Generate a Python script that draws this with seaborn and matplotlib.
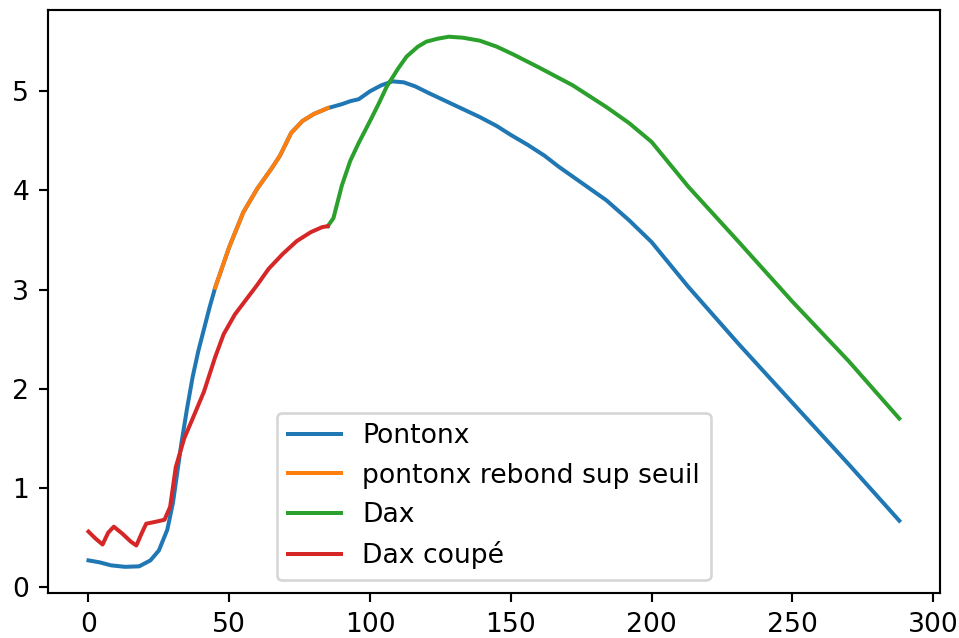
import matplotlib
matplotlib.use("Agg")
import matplotlib.pyplot as plt
import seaborn as sns
import numpy as np

# Pontonx (full series)
pontonx_x = [0, 4, 8, 13, 18, 22, 25, 28, 30, 33, 35, 37, 39, 41, 43, 45, 50, 55, 60, 65,
             68, 72, 76, 80, 85, 90, 93, 96, 100, 104, 108, 112, 116, 121, 127, 133, 139,
             145, 150, 156, 162, 167, 175, 184, 192, 200, 213, 231, 250, 270, 288]
pontonx_y = [0.27, 0.25, 0.22, 0.205, 0.21, 0.27, 0.37, 0.58, 0.85, 1.45, 1.80, 2.12, 2.38,
             2.60, 2.82, 3.02, 3.43, 3.78, 4.02, 4.22, 4.35, 4.58, 4.70, 4.77, 4.83, 4.87,
             4.90, 4.92, 5.00, 5.06, 5.10, 5.09, 5.05, 4.98, 4.90, 4.82, 4.74, 4.65, 4.56,
             4.46, 4.35, 4.24, 4.08, 3.90, 3.70, 3.48, 3.03, 2.45, 1.86, 1.24, 0.67]

# rebound part above threshold
rebond_start, rebond_end = 45, 85

# Dax coupé
dax_cut_x = [0, 2.5, 5, 7, 9, 12, 15, 17, 19, 20.5, 24, 27, 29, 31, 34, 37, 41, 45, 48,
             52, 56, 60, 64, 69, 74, 79, 83, 85]
dax_cut_y = [0.56, 0.49, 0.43, 0.55, 0.61, 0.54, 0.46, 0.42, 0.55, 0.64, 0.66, 0.68, 0.81,
             1.21, 1.50, 1.70, 1.97, 2.32, 2.55, 2.75, 2.90, 3.05, 3.21, 3.36, 3.49, 3.58,
             3.63, 3.64]

# Dax
dax_x = [85, 87, 90, 93, 96, 100, 103, 106, 110, 113, 117, 120, 124, 128, 133, 139, 145,
         151, 160, 172, 184, 192, 200, 213, 231, 250, 270, 288]
dax_y = [3.64, 3.72, 4.05, 4.30, 4.48, 4.70, 4.87, 5.05, 5.23, 5.35, 5.45, 5.50, 5.53, 5.55,
         5.54, 5.51, 5.45, 5.37, 5.24, 5.06, 4.84, 4.68, 4.49, 4.04, 3.48, 2.88, 2.28, 1.70]

px = np.array(pontonx_x)
py = np.array(pontonx_y)
mask = (px >= rebond_start) & (px <= rebond_end)

colors = sns.color_palette("tab10")

fig, ax = plt.subplots(figsize=(959 / 192, 638 / 192), dpi=192)
fig.subplots_adjust(left=0.050, right=0.980, bottom=0.070, top=0.984)

sns.lineplot(x=px, y=py, ax=ax, color=colors[0], label="Pontonx")
sns.lineplot(x=px[mask], y=py[mask], ax=ax, color=colors[1], label="pontonx rebond sup seuil")
sns.lineplot(x=dax_x, y=dax_y, ax=ax, color=colors[2], label="Dax")
sns.lineplot(x=dax_cut_x, y=dax_cut_y, ax=ax, color=colors[3], label="Dax coupé")

ax.legend(loc="lower center")

fig.savefig("out.png", dpi=192)
